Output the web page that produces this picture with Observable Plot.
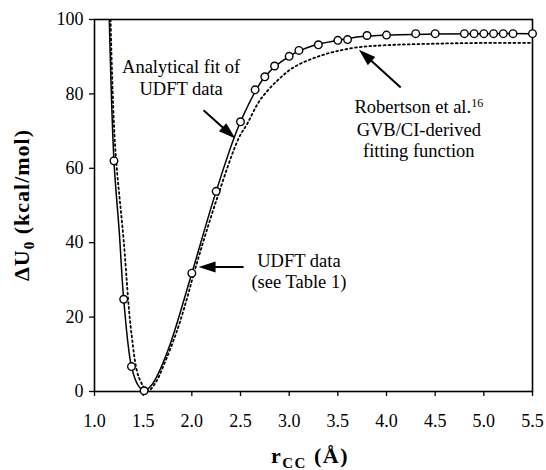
<!DOCTYPE html>
<html><head><meta charset="utf-8">
<script src="https://cdn.jsdelivr.net/npm/d3@7"></script>
<script src="https://cdn.jsdelivr.net/npm/@observablehq/plot@0.6"></script>
<style>body{margin:0;background:#fff;}</style>
</head><body><div id="chart"></div>
<script>
const xTicks = [1.0, 1.5, 2.0, 2.5, 3.0, 3.5, 4.0, 4.5, 5.0, 5.5];
const yTicks = [0, 20, 40, 60, 80, 100];

// UDFT data points (open circles)
const udftX = [1.2, 1.3, 1.38, 1.51, 2.0, 2.25, 2.5, 2.65, 2.75, 2.85, 3.0, 3.1, 3.3, 3.5, 3.6, 3.8, 4.0, 4.3, 4.5, 4.8, 4.9, 5.0, 5.1, 5.2, 5.3, 5.5];
const udftY = [62, 24.8, 6.7, 0.2, 31.8, 53.8, 72.5, 81.1, 84.6, 87.5, 90.1, 91.7, 93.2, 94.4, 94.6, 95.7, 95.8, 96.2, 96.2, 96.2, 96.2, 96.2, 96.2, 96.2, 96.2, 96.2];

// Analytical fit of UDFT data (solid line)
const fitX = [1.152, 1.2, 1.255, 1.3, 1.38, 1.45, 1.51, 1.57, 1.64, 1.78, 2.0, 2.25, 2.5, 2.75, 3.0, 3.25, 3.5, 3.75, 4.0, 4.5, 5.0, 5.5];
const fitY = [100, 62, 42.7, 24.8, 6.7, 1.6, 0.2, 1.2, 4.0, 12.9, 31.8, 53.8, 72.5, 84.6, 90.1, 93.0, 94.4, 95.4, 95.8, 96.1, 96.2, 96.2];

// Robertson et al. GVB/CI-derived fitting function (dotted line)
const robX = [1.165, 1.21, 1.30, 1.38, 1.46, 1.55, 1.63, 1.71, 1.85, 1.95, 2.04, 2.26, 2.48, 2.57, 2.70, 2.88, 3.05, 3.25, 3.46, 3.70, 4.0, 4.5, 5.0, 5.5];
const robY = [100, 66.7, 40.5, 15.5, 3.5, 0.2, 2.5, 7.0, 16.5, 25.0, 33.5, 52.0, 68.0, 72.0, 78.3, 83.6, 87.2, 89.6, 91.3, 92.5, 93.1, 93.5, 93.7, 93.7];

// annotations
const noteText = ["Analytical fit of", "UDFT data", "Robertson et al.16", "GVB/CI-derived", "fitting function", "UDFT data", "(see Table 1)"];
const noteX = [1.89, 1.89, 4.332, 4.332, 4.332, 3.1, 3.1];
const noteY = [87.1, 81.3, 76.4, 70.4, 64.6, 35.0, 29.3];

const arrowX1 = [2.12, 4.146, 2.532];
const arrowY1 = [75.6, 81.7, 33.5];
const arrowX2 = [2.447, 3.717, 2.069];
const arrowY2 = [68.0, 91.9, 33.5];

const xTitle = "rCC (Å)";
const yTitle = "ΔU0 (kcal/mol)";

const W = 546, H = 470, mL = 94, mR = 14, mT = 19, mB = 79;
const kx = (W - mL - mR) / 4.5, ky = (H - mT - mB) / 100;

const udft = udftX.map((x, i) => ({x, y: udftY[i]}));
const fit = fitX.map((x, i) => ({x, y: fitY[i]}));
const rob = robX.map((x, i) => ({x, y: robY[i]}));
const notes = noteText.map((t, i) => ({t, x: noteX[i], y: noteY[i]}));
const arrows = arrowX1.map((x1, i) => {
  const x2 = arrowX2[i], y1 = arrowY1[i], y2 = arrowY2[i];
  const dxp = (x2 - x1) * kx, dyp = -(y2 - y1) * ky;
  const ang = Math.atan2(dxp, -dyp) * 180 / Math.PI;
  const len = Math.hypot(dxp, dyp);
  const f = (len - 10) / len;
  return {x1, y1, x2, y2, xs: x1 + (x2 - x1) * f, ys: y1 + (y2 - y1) * f, ang};
});

const headSymbol = {
  draw(context, size) {
    context.moveTo(0, 0);
    context.lineTo(-5.5, 17);
    context.lineTo(5.5, 17);
    context.closePath();
  }
};

const chart = Plot.plot({
  width: W, height: H,
  marginLeft: mL, marginRight: mR, marginTop: mT, marginBottom: mB,
  style: {fontFamily: "'Liberation Serif', serif", fontSize: "18px", color: "black", background: "white"},
  x: {domain: [1, 5.5]},
  y: {domain: [0, 100]},
  marks: [
    Plot.axisX({ticks: xTicks, tickFormat: d => d.toFixed(1), tickSize: 5, tickPadding: 18, label: null, fontSize: 18, strokeWidth: 1.3}),
    Plot.axisY({ticks: yTicks, tickSize: 5, tickPadding: 6, label: null, fontSize: 18, strokeWidth: 1.3}),
    Plot.line(rob, {x: "x", y: "y", curve: "catmull-rom", stroke: "black", strokeWidth: 1.8, strokeDasharray: "1.8,3", clip: true}),
    Plot.line(fit, {x: "x", y: "y", curve: "catmull-rom", stroke: "black", strokeWidth: 1.5, clip: true}),
    Plot.frame({stroke: "black", strokeWidth: 1.6}),
    Plot.dot(udft, {x: "x", y: "y", r: 3.8, fill: "white", stroke: "black", strokeWidth: 1.4}),
    Plot.link(arrows, {x1: "x1", y1: "y1", x2: "xs", y2: "ys", stroke: "black", strokeWidth: 2}),
    Plot.dot(arrows, {x: "x2", y: "y2", symbol: headSymbol, rotate: "ang", fill: "black", stroke: "none", r: 5}),
    Plot.text(notes, {x: "x", y: "y", text: "t", fontSize: 18.5, fill: "black"}),
    Plot.text([xTitle], {frameAnchor: "bottom", textAnchor: "middle", dy: 71, dx: -3, fontSize: 22, fontWeight: "bold", fill: "black"}),
    Plot.text([yTitle], {frameAnchor: "left", textAnchor: "middle", dx: -76, rotate: -90, fontSize: 22, fontWeight: "bold", fill: "black"})
  ]
});

function rich(svg, full, parts, spacing) {
  let found = null;
  svg.querySelectorAll("text").forEach(el => {
    if (el.children.length === 0 && el.textContent === full) {
      el.textContent = "";
      if (spacing) el.setAttribute("letter-spacing", spacing);
      let shift = 0;
      parts.forEach(p => {
        const ts = document.createElementNS("http://www.w3.org/2000/svg", "tspan");
        ts.textContent = p.t;
        const target = p.dy || 0;
        ts.setAttribute("dy", (target - shift) + "px");
        shift = target;
        if (p.size) ts.setAttribute("font-size", p.size);
        el.appendChild(ts);
      });
      found = el;
    }
  });
  return found;
}
function centerAt(el, cx, cy) {
  if (!el) return;
  const r = el.getBoundingClientRect();
  const s = chart.getBoundingClientRect();
  const dx = cx - (r.left - s.left + r.width / 2);
  const dy = cy - (r.top - s.top + r.height / 2);
  const t = el.getAttribute("transform") || "";
  el.setAttribute("transform", `translate(${dx},${dy}) ` + t);
}
document.getElementById("chart").appendChild(chart);
const yEl = rich(chart, yTitle, [{t: "ΔU"}, {t: "0", dy: 5, size: "15px"}, {t: " (kcal/mol)"}], "1px");
const xEl = rich(chart, xTitle, [{t: "r"}, {t: "CC", dy: 5, size: "15px"}, {t: " (Å)"}], "1.5px");
rich(chart, "Robertson et al.16", [{t: "Robertson et al."}, {t: "16", dy: -6, size: "12px"}, {t: ""}]);
centerAt(yEl, 23, 205);
centerAt(xEl, 310, 457);
</script>
</body></html>
